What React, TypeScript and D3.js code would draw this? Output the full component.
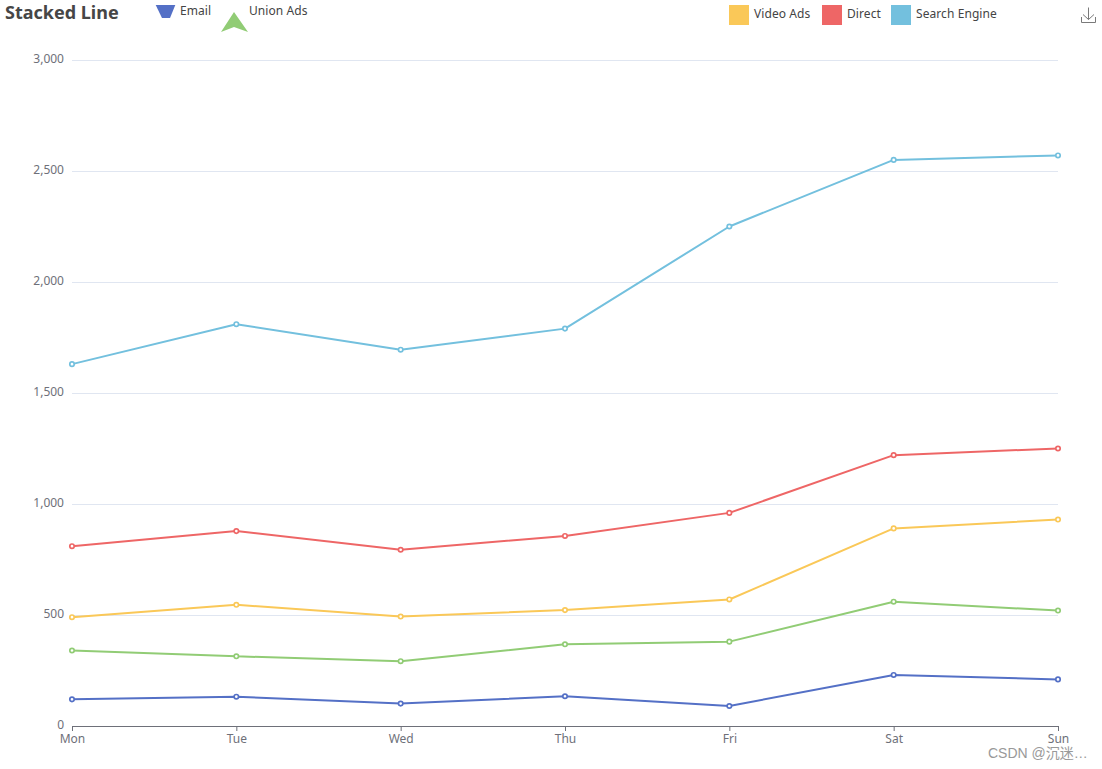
import * as d3 from "d3";

import React, { useEffect, useRef } from "react";

const days = ["Mon", "Tue", "Wed", "Thu", "Fri", "Sat", "Sun"];
const email = [120, 132, 101, 134, 90, 230, 210];
const unionAds = [220, 182, 191, 234, 290, 330, 310];
const videoAds = [150, 232, 201, 154, 190, 330, 410];
const direct = [320, 332, 301, 334, 390, 330, 320];
const searchEngine = [820, 932, 901, 934, 1290, 1330, 1320];

const seriesNames = ["Email", "Union Ads", "Video Ads", "Direct", "Search Engine"];
const seriesValues = [email, unionAds, videoAds, direct, searchEngine];
const seriesColors = ["#5470c6", "#91cc75", "#fac858", "#ee6666", "#73c0de"];
const yTicks = [0, 500, 1000, 1500, 2000, 2500, 3000];

const FONT = "'Noto Sans', sans-serif";

const App: React.FC = () => {
  const svgRef = useRef<SVGSVGElement | null>(null);

  useEffect(() => {
    const margin = { top: 60, right: 44, bottom: 43, left: 72 };
    const width = 1102 - margin.left - margin.right;
    const height = 769 - margin.top - margin.bottom;

    const svg = d3.select(svgRef.current).html(""); // Clear previous contents
    const g = svg
      .append("g")
      .attr("transform", `translate(${margin.left},${margin.top})`);

    const x = d3
      .scalePoint<string>()
      .domain(days)
      .range([0, width]);
    const y = d3.scaleLinear().domain([0, 3000]).range([height, 0]);

    // Grid lines
    g.append("g")
      .selectAll("line")
      .data(yTicks.slice(1))
      .join("line")
      .attr("x1", 0)
      .attr("x2", width)
      .attr("y1", (d) => Math.round(y(d)) + 0.5)
      .attr("y2", (d) => Math.round(y(d)) + 0.5)
      .attr("stroke", "#e0e6f1");

    // Y labels, sitting a little above their grid lines
    const yAxis = g
      .append("g")
      .attr("transform", "translate(0,-1.5)")
      .call(
        d3
          .axisLeft(y)
          .tickValues(yTicks)
          .tickSize(0)
          .tickPadding(8)
          .tickFormat((d) => d3.format(",")(d as number))
      );
    yAxis.select(".domain").remove();
    yAxis
      .selectAll("text")
      .attr("fill", "#6e7079")
      .style("font-family", FONT)
      .style("font-size", "12px");

    // X axis (d3 already puts its lines on the half pixel)
    const xAxis = g
      .append("g")
      .attr("transform", `translate(0,${height})`)
      .call(d3.axisBottom(x).tickSize(5).tickPadding(3.5));
    xAxis.select(".domain").attr("stroke", "#6e7079");
    xAxis.selectAll("line").attr("stroke", "#6e7079");
    xAxis
      .selectAll("text")
      .attr("fill", "#6e7079")
      .style("font-family", FONT)
      .style("font-size", "12px");

    // Stacked lines
    const stacked = d3
      .stack<number>()
      .keys(d3.range(seriesNames.length) as any)
      .value((i, key) => seriesValues[key as any][i])(d3.range(days.length));

    const line = d3
      .line<number[]>()
      .x((_d, i) => x(days[i]) as number)
      .y((d) => y(d[1]));

    stacked.forEach((layer, s) => {
      g.append("path")
        .datum(layer as unknown as number[][])
        .attr("fill", "none")
        .attr("stroke", seriesColors[s])
        .attr("stroke-width", 2)
        .attr("stroke-linejoin", "bevel")
        .attr("d", line);

      g.append("g")
        .selectAll("circle")
        .data(layer as unknown as number[][])
        .join("circle")
        .attr("cx", (_d, i) => x(days[i]) as number)
        .attr("cy", (d) => y(d[1]))
        .attr("r", 2.2)
        .attr("fill", "#fff")
        .attr("stroke", seriesColors[s])
        .attr("stroke-width", 1.7);
    });

    // Title
    svg
      .append("text")
      .attr("x", 5)
      .attr("y", 18.5)
      .attr("fill", "#464646")
      .style("font-family", FONT)
      .style("font-size", "18px")
      .style("font-weight", "700")
      .text("Stacked Line");

    // Legend
    const legendText = (name: string, tx: number, ty: number) =>
      svg
        .append("text")
        .attr("x", tx)
        .attr("y", ty)
        .attr("dy", "0.35em")
        .attr("fill", "#444")
        .style("font-family", FONT)
        .style("font-size", "12px")
        .style("letter-spacing", "0.08px")
        .text(name);

    svg
      .append("path")
      .attr("d", "M155.7,5H175.3L170,18H162Z")
      .attr("fill", seriesColors[0]);
    legendText(seriesNames[0], 180, 11);

    svg
      .append("path")
      .attr("d", "M234,12L248,32L234,27L221,32Z")
      .attr("fill", seriesColors[1]);
    legendText(seriesNames[1], 249, 11);

    const squares = [
      { s: 2, sx: 729, tx: 754 },
      { s: 3, sx: 822, tx: 847 },
      { s: 4, sx: 891, tx: 916 },
    ];
    squares.forEach(({ s, sx, tx }) => {
      svg
        .append("rect")
        .attr("x", sx)
        .attr("y", 5)
        .attr("width", 20)
        .attr("height", 20)
        .attr("fill", seriesColors[s]);
      legendText(seriesNames[s], tx, 14);
    });

    // Save-as-image icon
    svg
      .append("path")
      .attr("d", "M1088.5,7.5V19.5M1083,14.5L1088.5,19.5L1094,14.5M1081.5,17V22.5H1095.5V17")
      .attr("fill", "none")
      .attr("stroke", "#7a7a7a")
      .attr("stroke-width", 1);

    // Watermark
    svg
      .append("text")
      .attr("x", 988)
      .attr("y", 758)
      .attr("fill", "#999")
      .style("font-family", "'Liberation Sans', 'Noto Sans CJK SC', sans-serif")
      .style("font-size", "14px")
      .text("CSDN @沉迷…");
  }, []);

  return (
    <svg
      ref={svgRef}
      width={1102}
      height={769}
      style={{ position: "absolute", left: 0, top: 0, background: "#fff" }}
    ></svg>
  );
};

export default App;
